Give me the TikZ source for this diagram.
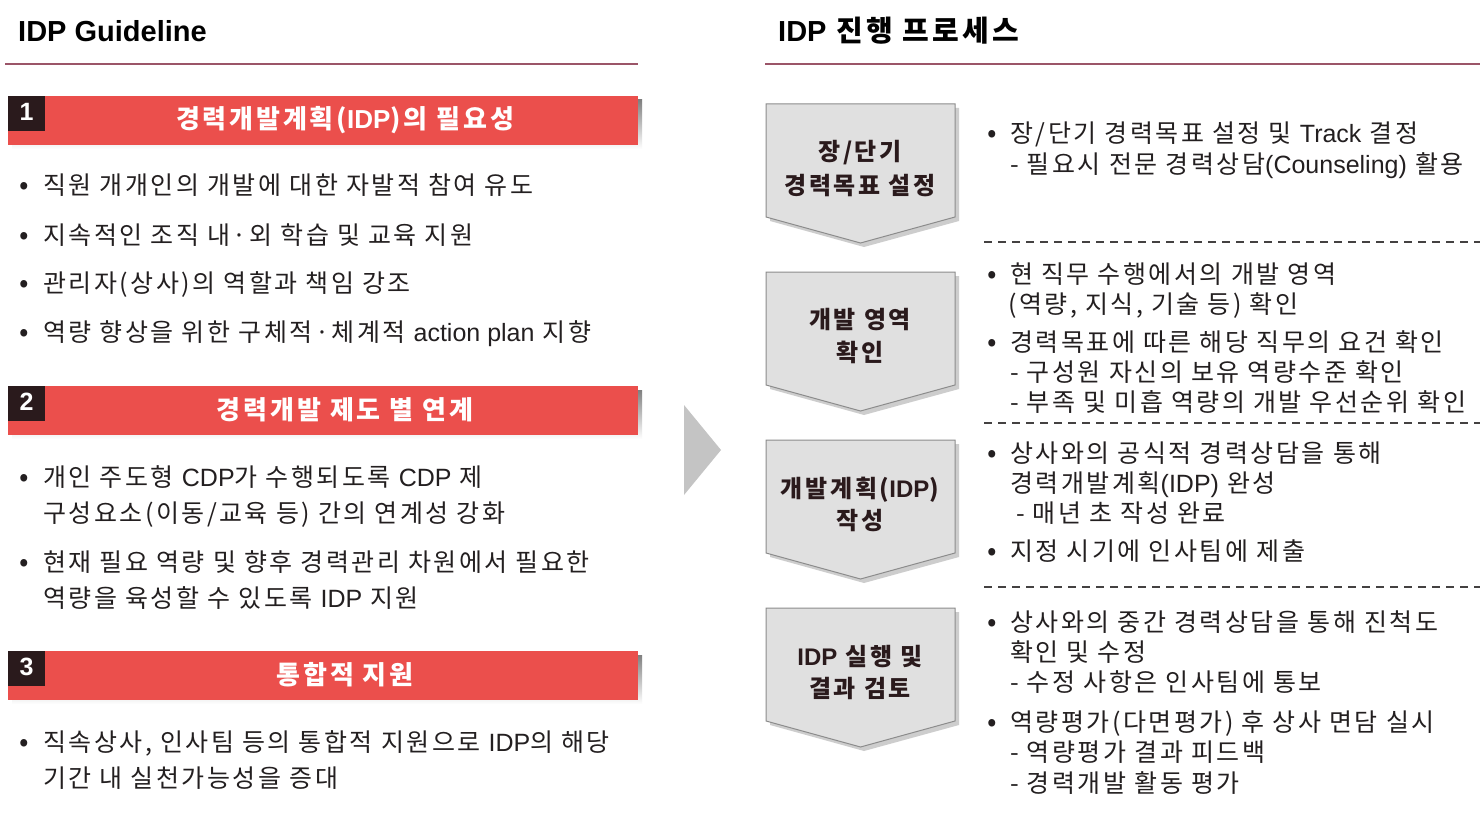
\documentclass[tikz,border=0pt]{standalone}
\usepackage{fontspec}
\setmainfont{Noto Sans CJK KR}[LetterSpace=11]
\newfontfamily\lat{Liberation Sans}
\definecolor{txt}{HTML}{231F20}
\definecolor{barred}{HTML}{EB4F4C}
\definecolor{numbox}{HTML}{2A1A1C}
\definecolor{hline}{HTML}{9B5568}
\definecolor{boxfill}{HTML}{E0E0E0}
\definecolor{boxdraw}{HTML}{8C8C8C}
\definecolor{shade}{HTML}{CDCDCD}
\definecolor{arrowgray}{HTML}{C4C4C4}
\begin{document}
\begin{tikzpicture}[x=1pt,y=-1pt,
  bodytext/.style={anchor=base west, inner sep=0pt, text=txt, font=\fontsize{25}{28}\selectfont\addfontfeatures{LetterSpace=10}},
  bul/.style={anchor=base, inner sep=0pt, text=txt, font=\fontsize{28}{28}\selectfont},
  boxtext/.style={anchor=base, inner sep=0pt, text=numbox, font=\fontsize{24}{28}\selectfont\bfseries},
  bartext/.style={anchor=center, inner sep=0pt, text=white, font=\fontsize{26}{30}\selectfont\bfseries},
  numtext/.style={anchor=center, inner sep=0pt, text=white, font=\fontsize{25}{30}\selectfont\lat\bfseries},
  titletext/.style={anchor=base west, inner sep=0pt, text=black, font=\fontsize{29}{34}\selectfont\bfseries},
  headline/.style={draw=hline, line width=2pt},
  sepline/.style={draw=txt!85, line width=1.5pt, dash pattern=on 8pt off 6pt},
  stepshape/.style={fill=boxfill, draw=boxdraw, line width=1pt},
  stepshadow/.style={fill=shade}
]
\useasboundingbox (0,0) rectangle (1482,813);
\fill[white] (0,0) rectangle (1482,813);

% ---------- headers ----------
\node[titletext] (ltitle) at (18,42) {\lat IDP Guideline};
\node[titletext] (rtitle) at (778,42) {{\lat IDP} 진행 프로세스};
\draw[headline] (5,64) -- (638,64);
\draw[headline] (765,64) -- (1480,64);

% ---------- left bars ----------
\foreach \yy/\nn/\tt [count=\i] in {96/1/{경력개발계획({\lat IDP})의 필요성}, 386/2/{경력개발 제도 별 연계}, 651/3/{통합적 지원}}{
  \fill[shade] (12,\yy+4) rectangle (642,\yy+53);
  \fill[barred] (8,\yy) rectangle (638,\yy+49);
  \fill[numbox] (8,\yy) rectangle (45,\yy+35);
  \node[numtext] (num\i) at (26.5,\yy+16) {\nn};
  \node[bartext] (bar\i) at (345,\yy+24) {\tt};
}

% ---------- left section 1 ----------
\node[bul] (lb1) at (24,195) {•};
\node[bodytext] (lt1) at (43,195) {직원 개개인의 개발에 대한 자발적 참여 유도};
\node[bul] (lb2) at (24,244) {•};
\node[bodytext] (lt2) at (43,244) {지속적인 조직 내·외 학습 및 교육 지원};
\node[bul] (lb3) at (24,292) {•};
\node[bodytext] (lt3) at (43,292) {관리자(상사)의 역할과 책임 강조};
\node[bul] (lb4) at (24,341) {•};
\node[bodytext] (lt4) at (43,341) {역량 향상을 위한 구체적·체계적 {\lat action plan} 지향};

% ---------- left section 2 ----------
\node[bul] (lb5) at (24,486) {•};
\node[bodytext] (lt5) at (43,486) {개인 주도형 {\lat CDP}가 수행되도록 {\lat CDP} 제};
\node[bodytext] (lt5b) at (43,522) {구성요소(이동/교육 등) 간의 연계성 강화};
\node[bul] (lb6) at (24,571) {•};
\node[bodytext] (lt6) at (43,571) {현재 필요 역량 및 향후 경력관리 차원에서 필요한};
\node[bodytext] (lt6b) at (43,607) {역량을 육성할 수 있도록 {\lat IDP} 지원};

% ---------- left section 3 ----------
\node[bul] (lb7) at (24,751) {•};
\node[bodytext] (lt7) at (43,751) {직속상사, 인사팀 등의 통합적 지원으로 {\lat IDP}의 해당};
\node[bodytext] (lt7b) at (43,787) {기간 내 실천가능성을 증대};

% ---------- middle arrow ----------
\fill[arrowgray] (684,405) -- (721,450) -- (684,495) -- cycle;

% ---------- step shapes ----------
\foreach \tp [count=\i] in {104,272,440,608}{
  \fill[stepshadow] (770,\tp+4) -- (959,\tp+4) -- (959,\tp+117) -- (864,\tp+143) -- (770,\tp+117) -- cycle;
  \path[stepshape] (766,\tp) -- (955,\tp) -- (955,\tp+113) -- (860.5,\tp+139) -- (766,\tp+113) -- cycle;
}
\node[boxtext] (s1a) at (860,161) {장/단기};
\node[boxtext] (s1b) at (860,194) {경력목표 설정};
\node[boxtext] (s2a) at (860,328) {개발 영역};
\node[boxtext] (s2b) at (860,361) {확인};
\node[boxtext] (s3a) at (860,497) {개발계획({\lat IDP})};
\node[boxtext] (s3b) at (860,529) {작성};
\node[boxtext] (s4a) at (860,665) {{\lat IDP} 실행 및};
\node[boxtext] (s4b) at (860,697) {결과 검토};

% ---------- separators ----------
\draw[sepline] (984,242) -- (1480,242);
\draw[sepline] (984,423) -- (1480,423);
\draw[sepline] (984,587) -- (1480,587);

% ---------- right text ----------
\node[bul] (rb1) at (992,143) {•};
\node[bodytext] (r1) at (1010,143) {장/단기 경력목표 설정 및 {\lat Track} 결정};
\node[bodytext] (r1b) at (1010,174) {- 필요시 전문 경력상담{\lat (Counseling)} 활용};

\node[bul] (rb2) at (992,283) {•};
\node[bodytext] (r2) at (1010,283) {현 직무 수행에서의 개발 영역};
\node[bodytext] (r2b) at (1008,313) {(역량, 지식, 기술 등) 확인};
\node[bul] (rb3) at (992,351) {•};
\node[bodytext] (r3) at (1010,351) {경력목표에 따른 해당 직무의 요건 확인};
\node[bodytext] (r3b) at (1010,381) {- 구성원 자신의 보유 역량수준 확인};
\node[bodytext] (r3c) at (1010,411) {- 부족 및 미흡 역량의 개발 우선순위 확인};

\node[bul] (rb4) at (992,462) {•};
\node[bodytext] (r4) at (1010,462) {상사와의 공식적 경력상담을 통해};
\node[bodytext] (r4b) at (1010,492) {경력개발계획{\lat (IDP)} 완성};
\node[bodytext] (r4c) at (1016,522) {- 매년 초 작성 완료};
\node[bul] (rb5) at (992,560) {•};
\node[bodytext] (r5) at (1010,560) {지정 시기에 인사팀에 제출};

\node[bul] (rb6) at (992,631) {•};
\node[bodytext] (r6) at (1010,631) {상사와의 중간 경력상담을 통해 진척도};
\node[bodytext] (r6b) at (1010,661) {확인 및 수정};
\node[bodytext] (r6c) at (1010,691) {- 수정 사항은 인사팀에 통보};
\node[bul] (rb7) at (992,731) {•};
\node[bodytext] (r7) at (1010,731) {역량평가(다면평가) 후 상사 면담 실시};
\node[bodytext] (r7b) at (1010,761) {- 역량평가 결과 피드백};
\node[bodytext] (r7c) at (1010,792) {- 경력개발 활동 평가};
\end{tikzpicture}
\end{document}
